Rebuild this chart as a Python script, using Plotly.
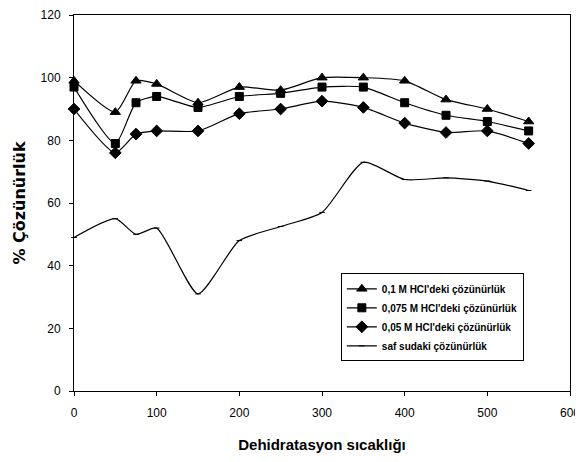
import plotly.graph_objects as go

x_acid = [0, 50, 75, 100, 150, 200, 250, 300, 350, 400, 450, 500, 550]
y_01 = [99, 89, 99, 98, 92, 97, 96, 100, 100, 99, 93, 90, 86]
y_0075 = [97, 79, 92, 94, 90.5, 94, 95, 97, 97, 92, 88, 86, 83]
y_005 = [90, 76, 82, 83, 83, 88.5, 90, 92.5, 90.5, 85.5, 82.5, 83, 79]

x_water = [0, 50, 75, 100, 150, 200, 250, 300, 350, 400, 450, 500, 550]
y_water = [49, 55, 50, 52, 31, 48, 52.5, 57, 73, 67.5, 68, 67, 64]

names = ["0,1 M HCl'deki çözünürlük", "0,075 M HCl'deki çözünürlük",
         "0,05 M HCl'deki çözünürlük", "saf sudaki çözünürlük"]

x_ticks = [0, 100, 200, 300, 400, 500, 600]
y_ticks = [0, 20, 40, 60, 80, 100, 120]

FONT = "Liberation Sans, Arial, sans-serif"

fig = go.Figure()
series = [
    (x_acid, y_01, "triangle-up", 9),
    (x_acid, y_0075, "square", 8),
    (x_acid, y_005, "diamond", 9),
    (x_water, y_water, "line-ew-open", 4),
]
for (xs, ys, sym, sz), nm in zip(series, names):
    fig.add_trace(go.Scatter(
        x=xs, y=ys, name=nm, mode="lines+markers", cliponaxis=False,
        line=dict(color="black", width=1.2, shape="spline", smoothing=0.6),
        marker=dict(symbol=sym, size=sz, color="black",
                    line=dict(color="black", width=1)),
    ))

# page has an 8px body margin: figure is sized to fit the 583x462 window
fig.update_layout(
    width=575, height=454,
    margin=dict(l=66, r=13, t=7, b=71, autoexpand=False),
    paper_bgcolor="white", plot_bgcolor="white",
    font=dict(family=FONT, color="black", size=12),
    legend=dict(
        x=0.538, y=0.313, xanchor="left", yanchor="top",
        bordercolor="black", borderwidth=1, bgcolor="white",
        font=dict(size=10, family=FONT, weight="bold"),
        tracegroupgap=0, itemwidth=30,
    ),
    showlegend=True,
)
fig.update_xaxes(
    range=[0, 600], tickvals=x_ticks, ticktext=[str(v) for v in x_ticks],
    showline=True, linecolor="black", linewidth=1, mirror=True, automargin=False,
    ticks="outside", ticklen=4, tickcolor="black", showgrid=False, zeroline=False,
    ticklabeloverflow="allow", ticklabelstandoff=7,
    title=dict(text="<b>Dehidratasyon sıcaklığı</b>", font=dict(size=15, family=FONT), standoff=20),
)
fig.update_yaxes(
    range=[0, 120], tickvals=y_ticks, ticktext=[str(v) for v in y_ticks],
    showline=True, linecolor="black", linewidth=1, mirror=True, automargin=False,
    ticks="outside", ticklen=4, tickcolor="black", showgrid=False, zeroline=False,
    ticklabeloverflow="allow", ticklabelstandoff=6,
    title=dict(text="<b>% Çözünürlük</b>", font=dict(size=16, family="DejaVu Sans, sans-serif"), standoff=10),
)

fig.write_html("out.html")
